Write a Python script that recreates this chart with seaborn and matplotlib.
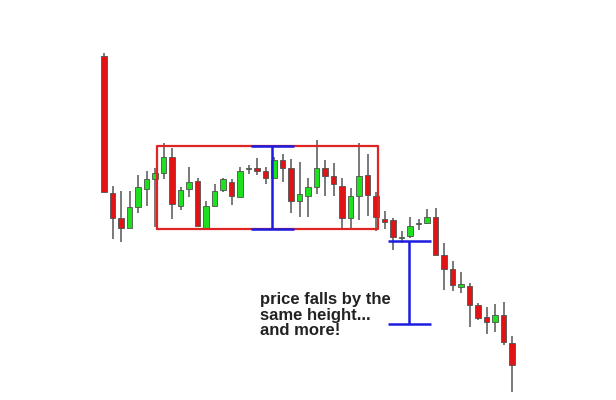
import numpy as np
import pandas as pd
import matplotlib
matplotlib.use("Agg")
import matplotlib.pyplot as plt
import seaborn as sns

sns.set_style("white")
plt.rcParams["font.family"] = ["Liberation Sans", "DejaVu Sans"]

# candle prices (open, high, low, close)
opens = [344, 207, 182, 172, 193, 211, 221, 227, 243, 194, 211, 219, 172, 194, 210, 218, 203,
         231, 232, 229, 222, 240, 232, 199, 204, 213, 232, 224, 214, 182, 204, 225, 204, 181,
         180, 162, 164, 176, 177, 183, 145, 131, 113, 114, 95, 83, 78, 85, 57]
highs = [347, 214, 209, 209, 225, 229, 232, 257, 252, 213, 233, 222, 199, 216, 222, 221, 233,
         235, 242, 233, 243, 246, 241, 238, 222, 260, 240, 237, 222, 212, 257, 246, 208, 189,
         182, 169, 183, 181, 191, 192, 157, 139, 128, 117, 97, 93, 96, 98, 64]
lows = [208, 161, 158, 172, 187, 194, 173, 221, 181, 190, 203, 174, 172, 194, 208, 195, 203,
        226, 225, 216, 222, 218, 187, 183, 183, 206, 204, 204, 170, 171, 180, 184, 169, 171,
        150, 157, 162, 170, 176, 145, 110, 109, 107, 73, 80, 66, 68, 55, 8]
closes = [208, 182, 172, 193, 213, 221, 227, 243, 196, 210, 218, 174, 194, 209, 221, 204, 229,
          232, 229, 222, 240, 232, 199, 206, 213, 232, 224, 216, 182, 204, 224, 205, 183, 178,
          163, 162, 174, 176, 183, 145, 131, 115, 116, 95, 82, 78, 85, 58, 35]

# consolidation range and breakout level
range_start, range_end = 6.24, 32.2
range_top, range_bottom = 254, 171
breakout = 159
label = "price falls by the\nsame height...\nand more!"

df = pd.DataFrame({"open": opens, "high": highs, "low": lows, "close": closes})
df["x"] = np.arange(len(df))
df["up"] = df["close"] >= df["open"]

fig = plt.figure(figsize=(6.16, 4.0), dpi=100)
ax = fig.add_axes([0, 0, 1, 1])

# wicks
ax.vlines(df["x"], df["low"], df["high"], color="#6e6e6e", lw=1.3, zorder=1)

# bodies
body = (df["close"] - df["open"]).abs().clip(lower=1)
bottom = df[["open", "close"]].min(axis=1)
colors = np.where(df["up"], "#1fe01f", "#e01414")
ax.bar(df["x"], body, bottom=bottom, width=0.66, color=colors,
       edgecolor="#505050", linewidth=0.6, zorder=2)

# range box
ax.plot([range_start, range_end, range_end, range_start, range_start],
        [range_bottom, range_bottom, range_top, range_top, range_bottom],
        color="#e02424", lw=1.6, zorder=3)

# height of the range
height = range_top - range_bottom
bx = 19.76
ax.vlines(bx, range_bottom, range_top, color="#1c1ce0", lw=1.8, zorder=4)
ax.hlines([range_bottom, range_top], bx - 2.5, bx + 2.6, color="#1c1ce0", lw=1.8, zorder=4)

# projected move
tx = 35.9
target = breakout - height
ax.vlines(tx, target, breakout, color="#1c1ce0", lw=1.8, zorder=4)
ax.hlines([target, breakout], tx - 2.5, tx + 2.6, color="#1c1ce0", lw=1.8, zorder=4)

ax.text(18.35, 108, label, fontsize=12, fontweight="bold", color="#222222",
        va="top", ha="left", linespacing=1.06)

ax.set_xlim(-104 / 8.5, (616 - 104) / 8.5)
ax.set_ylim(0, 400)
ax.axis("off")

fig.savefig("out.png", dpi=100, facecolor="white")
